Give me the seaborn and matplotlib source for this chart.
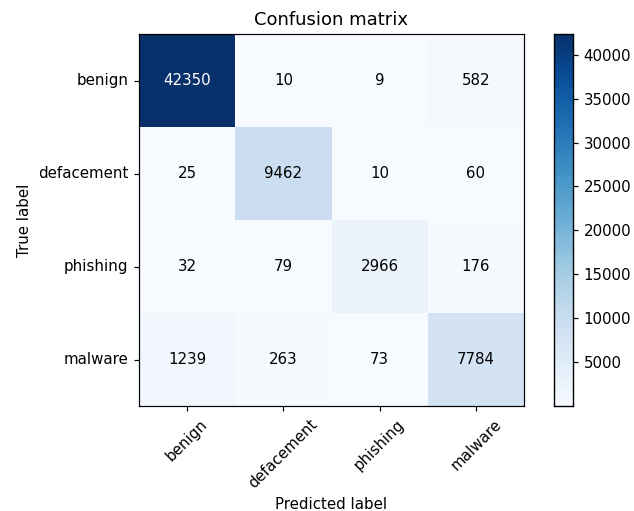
import numpy as np
import pandas as pd
import matplotlib
matplotlib.use("Agg")
import matplotlib.pyplot as plt
import seaborn as sns

classes = ["benign", "defacement", "phishing", "malware"]
row_benign = [42350, 10, 9, 582]
row_defacement = [25, 9462, 10, 60]
row_phishing = [32, 79, 2966, 176]
row_malware = [1239, 263, 73, 7784]

cm = np.array([row_benign, row_defacement, row_phishing, row_malware])
df = pd.DataFrame(cm, index=classes, columns=classes)

DPI = 108
W, H = 634, 511
fig = plt.figure(figsize=(W / DPI, H / DPI), dpi=DPI)
ax = fig.add_axes([139 / W, 1 - 406 / H, 385 / W, 372 / H])
cax = fig.add_axes([554 / W, 1 - 406 / H, 19 / W, 372 / H])

sns.heatmap(df, ax=ax, cbar_ax=cax, cmap="Blues", annot=False,
            vmin=cm.min(), vmax=cm.max(), square=False)

thresh = cm.max() / 2.0
for i in range(cm.shape[0]):
    for j in range(cm.shape[1]):
        ax.text(j + 0.5, i + 0.5, format(cm[i, j], "d"),
                ha="center", va="center", fontsize=10,
                color="white" if cm[i, j] > thresh else "black")

for s in ax.spines.values():
    s.set_visible(True)
    s.set_color("black")
    s.set_linewidth(0.8)
cax.set_frame_on(True)
for s in cax.spines.values():
    s.set_visible(True)
    s.set_linewidth(0.8)

cax.set_yticks([5000, 10000, 15000, 20000, 25000, 30000, 35000, 40000])
cax.tick_params(labelsize=10, length=3.5)

ax.set_title("Confusion matrix", fontsize=12)
ax.set_xlabel("Predicted label", fontsize=10)
ax.set_ylabel("True label", fontsize=10)
ax.set_xticks(np.arange(4) + 0.5)
ax.set_yticks(np.arange(4) + 0.5)
ax.set_xticklabels(classes, rotation=45, fontsize=10)
ax.set_yticklabels(classes, rotation=0, fontsize=10)
ax.tick_params(axis="both", length=3.5, width=0.8)

fig.savefig("out.png", dpi=DPI)
